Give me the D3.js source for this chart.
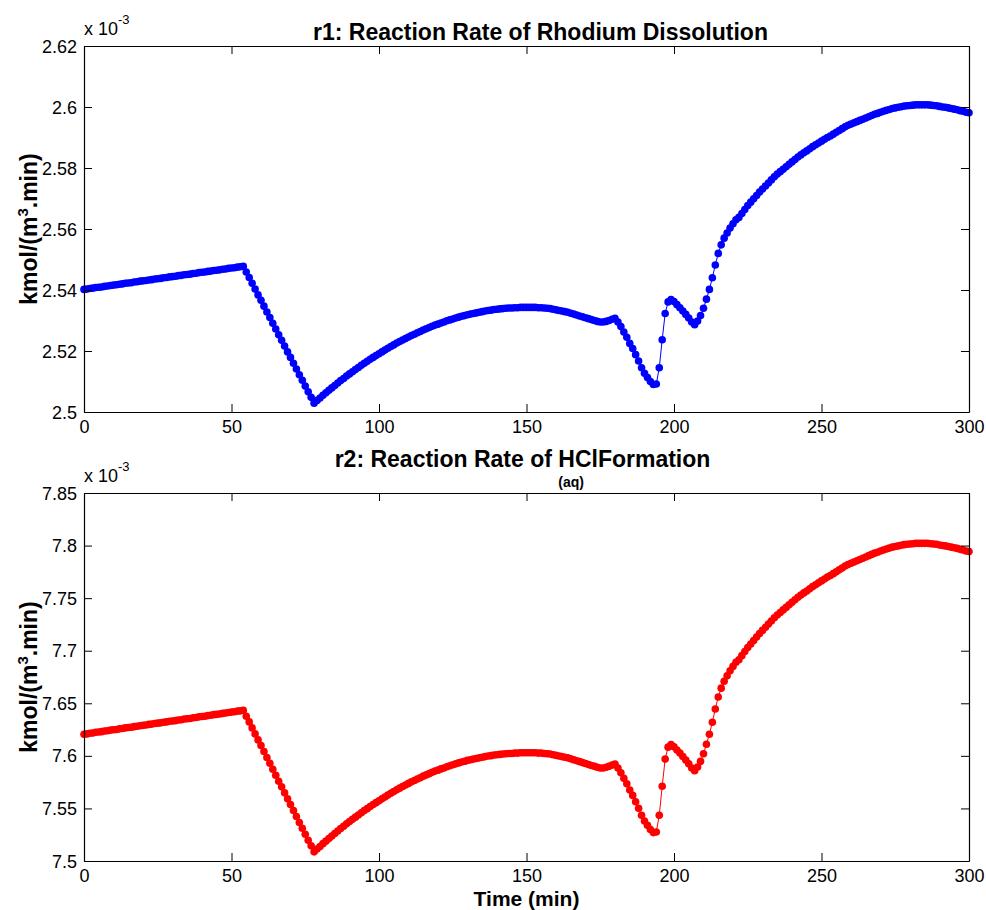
<!DOCTYPE html>
<html>
<head>
<meta charset="utf-8">
<script src="https://cdn.jsdelivr.net/npm/d3@7"></script>
<style>
  html, body { margin: 0; padding: 0; background: #fff; }
  svg { display: block; }
  text { font-family: "Liberation Sans", Arial, Helvetica, sans-serif; fill: #000; }
</style>
</head>
<body>
<svg id="chart" width="986" height="910"></svg>
<script>
// ---------------- DATA ----------------
const timeMin = [0,1,2,3,4,5,6,7,8,9,10,11,12,13,14,15,16,17,18,19,20,21,22,23,24,25,26,27,28,29,30,31,32,33,34,35,36,37,38,39,40,41,42,43,44,45,46,47,48,49,50,51,52,53,54,55,56,57,58,59,60,61,62,63,64,65,66,67,68,69,70,71,72,73,74,75,76,77,78,79,80,81,82,83,84,85,86,87,88,89,90,91,92,93,94,95,96,97,98,99,100,101,102,103,104,105,106,107,108,109,110,111,112,113,114,115,116,117,118,119,120,121,122,123,124,125,126,127,128,129,130,131,132,133,134,135,136,137,138,139,140,141,142,143,144,145,146,147,148,149,150,151,152,153,154,155,156,157,158,159,160,161,162,163,164,165,166,167,168,169,170,171,172,173,174,175,176,177,178,179,180,181,182,183,184,185,186,187,188,189,190,191,192,193,194,195,196,197,198,199,200,201,202,203,204,205,206,207,208,209,210,211,212,213,214,215,216,217,218,219,220,221,222,223,224,225,226,227,228,229,230,231,232,233,234,235,236,237,238,239,240,241,242,243,244,245,246,247,248,249,250,251,252,253,254,255,256,257,258,259,260,261,262,263,264,265,266,267,268,269,270,271,272,273,274,275,276,277,278,279,280,281,282,283,284,285,286,287,288,289,290,291,292,293,294,295,296,297,298,299,300];

// r1 values, in units of 1e-3 kmol/(m3.min)
const r1Values = [
2.5402,2.5403,2.5405,2.5406,2.5408,2.5409,2.5410,2.5412,2.5413,2.5415,
2.5416,2.5417,2.5419,2.5420,2.5422,2.5423,2.5424,2.5426,2.5427,2.5429,
2.5430,2.5431,2.5433,2.5434,2.5436,2.5437,2.5438,2.5440,2.5441,2.5443,
2.5444,2.5445,2.5447,2.5448,2.5450,2.5451,2.5452,2.5454,2.5455,2.5457,
2.5458,2.5459,2.5461,2.5462,2.5464,2.5465,2.5466,2.5468,2.5469,2.5471,
2.5472,2.5473,2.5475,2.5476,2.5478,2.5459,2.5441,2.5422,2.5403,2.5384,
2.5366,2.5347,2.5328,2.5310,2.5291,2.5272,2.5253,2.5235,2.5216,2.5197,
2.5179,2.5160,2.5141,2.5122,2.5104,2.5085,2.5066,2.5048,2.5029,2.5038,
2.5046,2.5055,2.5063,2.5071,2.5079,2.5087,2.5095,2.5103,2.5110,2.5118,
2.5125,2.5132,2.5139,2.5146,2.5153,2.5160,2.5166,2.5173,2.5179,2.5185,
2.5191,2.5197,2.5203,2.5209,2.5215,2.5220,2.5226,2.5231,2.5236,2.5241,
2.5246,2.5251,2.5255,2.5260,2.5264,2.5269,2.5273,2.5277,2.5281,2.5285,
2.5288,2.5292,2.5295,2.5299,2.5302,2.5305,2.5308,2.5311,2.5314,2.5316,
2.5319,2.5321,2.5323,2.5325,2.5327,2.5329,2.5331,2.5333,2.5334,2.5336,
2.5337,2.5338,2.5339,2.5340,2.5341,2.5341,2.5342,2.5342,2.5343,2.5343,
2.5343,2.5343,2.5343,2.5343,2.5342,2.5342,2.5341,2.5340,2.5339,2.5337,
2.5335,2.5333,2.5331,2.5329,2.5327,2.5324,2.5321,2.5318,2.5315,2.5312,
2.5309,2.5306,2.5303,2.5300,2.5297,2.5295,2.5295,2.5297,2.5300,2.5304,
2.5307,2.5295,2.5280,2.5262,2.5245,2.5225,2.5208,2.5188,2.5167,2.5145,
2.5127,2.5113,2.5100,2.5090,2.5092,2.5145,2.5237,2.5323,2.5361,2.5369,
2.5362,2.5352,2.5342,2.5331,2.5320,2.5308,2.5295,2.5286,2.5298,2.5316,
2.5340,2.5370,2.5402,2.5440,2.5482,2.5520,2.5548,2.5570,2.5587,2.5603,
2.5617,2.5630,2.5638,2.5651,2.5664,2.5677,2.5688,2.5699,2.5710,2.5721,
2.5731,2.5741,2.5751,2.5761,2.5771,2.5780,2.5788,2.5796,2.5804,2.5812,
2.5820,2.5828,2.5836,2.5843,2.5850,2.5856,2.5863,2.5870,2.5876,2.5882,
2.5888,2.5894,2.5900,2.5905,2.5911,2.5917,2.5923,2.5929,2.5935,2.5940,
2.5944,2.5948,2.5952,2.5956,2.5960,2.5964,2.5968,2.5972,2.5976,2.5979,
2.5983,2.5986,2.5989,2.5992,2.5995,2.5997,2.5999,2.6001,2.6003,2.6004,
2.6005,2.6006,2.6007,2.6007,2.6007,2.6007,2.6007,2.6006,2.6005,2.6004,
2.6002,2.6000,2.5999,2.5997,2.5995,2.5993,2.5991,2.5988,2.5986,2.5983,
2.5981];

// r2 values, in units of 1e-3 kmol/(m3.min)
const r2Values = [
7.6206,7.6209,7.6215,7.6218,7.6224,7.6227,7.6230,7.6236,7.6239,7.6245,
7.6248,7.6251,7.6257,7.6260,7.6266,7.6269,7.6272,7.6278,7.6281,7.6287,
7.6290,7.6293,7.6299,7.6302,7.6308,7.6311,7.6314,7.6320,7.6323,7.6329,
7.6332,7.6335,7.6341,7.6344,7.6350,7.6353,7.6356,7.6362,7.6365,7.6371,
7.6374,7.6377,7.6383,7.6386,7.6392,7.6395,7.6398,7.6404,7.6407,7.6413,
7.6416,7.6419,7.6425,7.6428,7.6434,7.6377,7.6323,7.6266,7.6209,7.6152,
7.6098,7.6041,7.5984,7.5930,7.5873,7.5816,7.5759,7.5705,7.5648,7.5591,
7.5537,7.5480,7.5423,7.5366,7.5312,7.5255,7.5198,7.5144,7.5087,7.5114,
7.5138,7.5165,7.5189,7.5213,7.5237,7.5261,7.5285,7.5309,7.5330,7.5354,
7.5375,7.5396,7.5417,7.5438,7.5459,7.5480,7.5498,7.5519,7.5537,7.5555,
7.5573,7.5591,7.5609,7.5627,7.5645,7.5660,7.5678,7.5693,7.5708,7.5723,
7.5738,7.5753,7.5765,7.5780,7.5792,7.5807,7.5819,7.5831,7.5843,7.5855,
7.5864,7.5876,7.5885,7.5897,7.5906,7.5915,7.5924,7.5933,7.5942,7.5948,
7.5957,7.5963,7.5969,7.5975,7.5981,7.5987,7.5993,7.5999,7.6002,7.6008,
7.6011,7.6014,7.6017,7.6020,7.6023,7.6023,7.6026,7.6026,7.6029,7.6029,
7.6029,7.6029,7.6029,7.6029,7.6026,7.6026,7.6023,7.6020,7.6017,7.6011,
7.6005,7.5999,7.5993,7.5987,7.5981,7.5972,7.5963,7.5954,7.5945,7.5936,
7.5927,7.5918,7.5909,7.5900,7.5891,7.5885,7.5885,7.5891,7.5900,7.5912,
7.5921,7.5885,7.5840,7.5786,7.5735,7.5675,7.5624,7.5564,7.5501,7.5435,
7.5381,7.5339,7.5300,7.5270,7.5276,7.5435,7.5711,7.5969,7.6083,7.6107,
7.6086,7.6056,7.6026,7.5993,7.5960,7.5924,7.5885,7.5858,7.5894,7.5948,
7.6020,7.6110,7.6206,7.6320,7.6446,7.6560,7.6644,7.6710,7.6761,7.6809,
7.6851,7.6890,7.6914,7.6953,7.6992,7.7031,7.7064,7.7097,7.7130,7.7163,
7.7193,7.7223,7.7253,7.7283,7.7313,7.7340,7.7364,7.7388,7.7412,7.7436,
7.7460,7.7484,7.7508,7.7529,7.7550,7.7568,7.7589,7.7610,7.7628,7.7646,
7.7664,7.7682,7.7700,7.7715,7.7733,7.7751,7.7769,7.7787,7.7805,7.7820,
7.7832,7.7844,7.7856,7.7868,7.7880,7.7892,7.7904,7.7916,7.7928,7.7937,
7.7949,7.7958,7.7967,7.7976,7.7985,7.7991,7.7997,7.8003,7.8009,7.8012,
7.8015,7.8018,7.8021,7.8021,7.8021,7.8021,7.8021,7.8018,7.8015,7.8012,
7.8006,7.8000,7.7997,7.7991,7.7985,7.7979,7.7973,7.7964,7.7958,7.7949,
7.7943];

const xTickValues = [0, 50, 100, 150, 200, 250, 300];
const xTickLabels = ["0", "50", "100", "150", "200", "250", "300"];
const r1TickValues = [2.5, 2.52, 2.54, 2.56, 2.58, 2.6, 2.62];
const r1TickLabels = ["2.5", "2.52", "2.54", "2.56", "2.58", "2.6", "2.62"];
const r2TickValues = [7.5, 7.55, 7.6, 7.65, 7.7, 7.75, 7.8, 7.85];
const r2TickLabels = ["7.5", "7.55", "7.6", "7.65", "7.7", "7.75", "7.8", "7.85"];

// ---------------- LAYOUT ----------------
const svg = d3.select("#chart");
const left = 84, right = 969;
const panels = [
  { top: 46, bottom: 412, domain: [2.5, 2.62], ticks: r1TickValues, labels: r1TickLabels,
    values: r1Values, color: "#0000ff" },
  { top: 493, bottom: 861, domain: [7.5, 7.85], ticks: r2TickValues, labels: r2TickLabels,
    values: r2Values, color: "#ff0000" }
];

const x = d3.scaleLinear().domain([0, 300]).range([left, right]);

panels.forEach((p) => {
  const y = d3.scaleLinear().domain(p.domain).range([p.bottom, p.top]);
  const g = svg.append("g");

  // data: line + markers
  const pts = timeMin.map((t, k) => [t, p.values[k]]);
  const line = d3.line().x(d => x(d[0])).y(d => y(d[1]));
  g.append("path").datum(pts).attr("d", line)
    .attr("fill", "none").attr("stroke", p.color).attr("stroke-width", 1);
  g.append("g").selectAll("circle").data(pts).join("circle")
    .attr("cx", d => x(d[0])).attr("cy", d => y(d[1])).attr("r", 3.8)
    .attr("fill", p.color);

  // axes
  const fmtX = (d) => xTickLabels[xTickValues.indexOf(d)];
  const fmtY = (d) => p.labels[p.ticks.indexOf(d)];

  const axB = g.append("g").attr("transform", `translate(0,${p.bottom})`)
    .call(d3.axisBottom(x).tickValues(xTickValues).tickFormat(fmtX)
      .tickSizeInner(-8).tickSizeOuter(0).tickPadding(8));
  const axT = g.append("g").attr("transform", `translate(0,${p.top})`)
    .call(d3.axisTop(x).tickValues(xTickValues).tickFormat("")
      .tickSizeInner(-8).tickSizeOuter(0));
  const axL = g.append("g").attr("transform", `translate(${left},0)`)
    .call(d3.axisLeft(y).tickValues(p.ticks).tickFormat(fmtY)
      .tickSizeInner(-8).tickSizeOuter(0).tickPadding(7));
  const axR = g.append("g").attr("transform", `translate(${right},0)`)
    .call(d3.axisRight(y).tickValues(p.ticks).tickFormat("")
      .tickSizeInner(-8).tickSizeOuter(0));
  [axB, axT, axL, axR].forEach(a => {
    a.select(".domain").attr("stroke", "#000").attr("stroke-width", 1.2);
    a.selectAll(".tick line").attr("stroke", "#000");
    a.selectAll("text").attr("font-size", 18)
      .style("font-family", '"Liberation Sans", Arial, sans-serif').attr("fill", "#000");
  });
  axB.selectAll("text").attr("dy", "0.71em");
  axL.selectAll("text").attr("dy", "0.34em");

  // exponent label
  const ex = g.append("text").attr("x", left).attr("y", p.top - 11).attr("font-size", 18);
  ex.append("tspan").text("x 10");
  ex.append("tspan").attr("dy", -11).attr("font-size", 13).text("-3");

  // y-axis label
  const cy = (p.top + p.bottom) / 2;
  const yl = g.append("text").attr("transform", `translate(37,${cy}) rotate(-90)`)
    .attr("text-anchor", "middle").attr("font-size", 23).attr("font-weight", "bold");
  yl.append("tspan").text("kmol/(m");
  yl.append("tspan").attr("dy", -9).attr("font-size", 15).text("3");
  yl.append("tspan").attr("dy", 9).text(".min)");
});

// titles
const cx = (left + right) / 2;
svg.append("text").attr("x", cx + 14).attr("y", 40).attr("text-anchor", "middle")
  .attr("font-size", 23).attr("font-weight", "bold")
  .text("r1: Reaction Rate of Rhodium Dissolution");

const prefix = "r2: Reaction Rate of ";
const t2x = cx - 4;
const t2 = svg.append("text").attr("x", t2x).attr("y", 467).attr("text-anchor", "middle")
  .attr("font-size", 23).attr("font-weight", "bold")
  .text(prefix + "HClFormation");
const node = t2.node();
const full = node.getComputedTextLength();
const pre = node.getSubStringLength(0, prefix.length);
svg.append("text").attr("x", t2x - full / 2 + pre).attr("y", 487)
  .attr("font-size", 14).attr("font-weight", "bold").text("(aq)");

// x label
svg.append("text").attr("x", cx).attr("y", 906).attr("text-anchor", "middle")
  .attr("font-size", 21).attr("font-weight", "bold").text("Time (min)");
</script>
</body>
</html>
